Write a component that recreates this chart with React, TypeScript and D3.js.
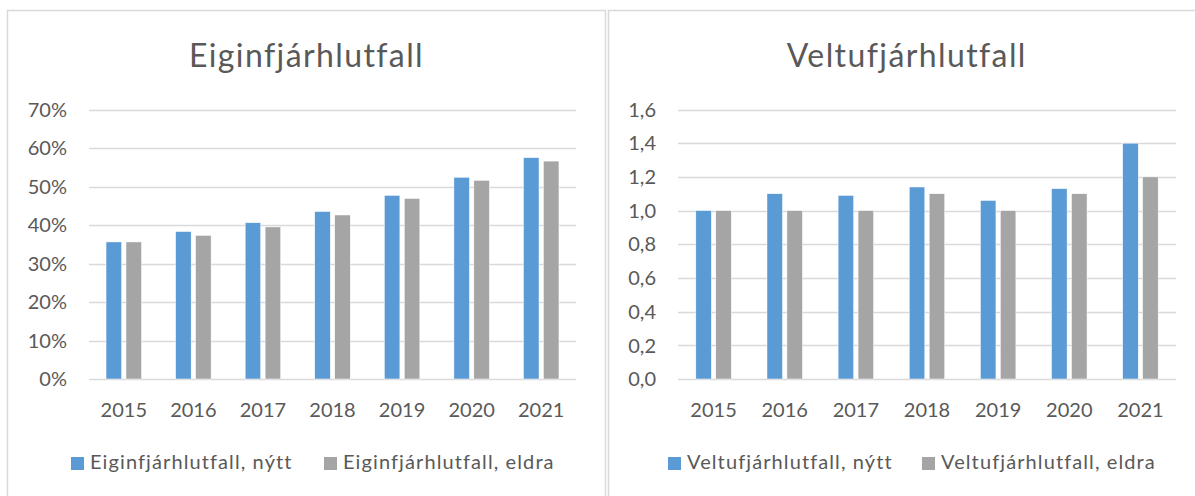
import React, { useEffect, useRef } from 'react';
import * as d3 from 'd3';

// Data
const years = ['2015', '2016', '2017', '2018', '2019', '2020', '2021'];

const eiginNytt = [35.6, 38.3, 40.6, 43.5, 47.7, 52.4, 57.5];
const eiginEldra = [35.6, 37.3, 39.5, 42.6, 46.9, 51.6, 56.6];
const eiginTicks = [0, 10, 20, 30, 40, 50, 60, 70];

const veltuNytt = [1.0, 1.1, 1.09, 1.14, 1.06, 1.13, 1.4];
const veltuEldra = [1.0, 1.0, 1.0, 1.1, 1.0, 1.1, 1.2];
const veltuTicks = [0, 0.2, 0.4, 0.6, 0.8, 1.0, 1.2, 1.4, 1.6];

const BLUE = '#5b9bd5';
const GRAY = '#a5a5a5';
const GRID = '#d9d9d9';
const TEXT = '#595959';
const FONT = 'Lato, "Open Sans", sans-serif';

interface ChartSpec {
  title: string;
  left: number; // panel left edge
  right: number; // panel right edge
  plotX: [number, number];
  yMax: number;
  ticks: number[];
  tickFormat: (v: number) => string;
  series: number[][];
  names: string[];
  legendX: [number, number];
}

const App: React.FC = () => {
  const svgRef = useRef<SVGSVGElement>(null);

  useEffect(() => {
    document.body.style.margin = '0';
    if (!svgRef.current) return;
    const svg = d3.select(svgRef.current);
    svg.selectAll('*').remove();

    const charts: ChartSpec[] = [
      {
        title: 'Eiginfjárhlutfall',
        left: 7.5,
        right: 605.5,
        plotX: [89, 576],
        yMax: 70,
        ticks: eiginTicks,
        tickFormat: v => `${v}%`,
        series: [eiginNytt, eiginEldra],
        names: ['Eiginfjárhlutfall, nýtt', 'Eiginfjárhlutfall, eldra'],
        legendX: [71, 324],
      },
      {
        title: 'Veltufjárhlutfall',
        left: 608.5,
        right: 1205,
        plotX: [678, 1176],
        yMax: 1.6,
        ticks: veltuTicks,
        tickFormat: v => d3.format('.1f')(v).replace('.', ','),
        series: [veltuNytt, veltuEldra],
        names: ['Veltufjárhlutfall, nýtt', 'Veltufjárhlutfall, eldra'],
        legendX: [668, 922],
      },
    ];

    const colors = [BLUE, GRAY];

    charts.forEach(c => {
      const g = svg.append('g');

      // panel frame (runs past the bottom of the picture)
      g.append('rect')
        .attr('x', c.left)
        .attr('y', 10.5)
        .attr('width', c.right - c.left)
        .attr('height', 520)
        .attr('fill', '#fff')
        .attr('stroke', GRID)
        .attr('stroke-width', 1.5);

      const x = d3.scaleBand<string>()
        .domain(years)
        .range(c.plotX)
        .paddingInner(0)
        .paddingOuter(0);

      const y = d3.scaleLinear()
        .domain([0, c.yMax])
        .range([379, 109.5]);

      const inner = d3.scaleBand<number>()
        .domain([0, 1])
        .range([0, 35.5])
        .paddingInner(0.22);

      // title, centred on the panel
      g.append('text')
        .attr('x', (c.left + c.right) / 2)
        .attr('y', 67)
        .attr('text-anchor', 'middle')
        .attr('fill', TEXT)
        .attr('font-family', FONT)
        .attr('font-weight', 400)
        .attr('font-size', 32)
        .attr('letter-spacing', 1.4)
        .text(c.title);

      // gridlines
      g.append('g')
        .selectAll('line')
        .data(c.ticks)
        .join('line')
        .attr('x1', c.plotX[0])
        .attr('x2', c.plotX[1])
        .attr('y1', d => Math.round(y(d)) + 0.5)
        .attr('y2', d => Math.round(y(d)) + 0.5)
        .attr('stroke', GRID)
        .attr('stroke-width', 1.5);

      // y tick labels
      g.append('g')
        .selectAll('text')
        .data(c.ticks)
        .join('text')
        .attr('x', c.plotX[0] - 22)
        .attr('y', d => y(d))
        .attr('dy', '0.36em')
        .attr('text-anchor', 'end')
        .attr('fill', TEXT)
        .attr('font-family', FONT)
        .attr('font-size', 20)
        .text(d => c.tickFormat(d));

      // bars
      c.series.forEach((vals, si) => {
        g.append('g')
          .selectAll('rect')
          .data(vals)
          .join('rect')
          .attr('x', (_, i) => (x(years[i]) as number) + x.bandwidth() / 2 - 17.75 + (inner(si) as number))
          .attr('y', d => y(d))
          .attr('width', inner.bandwidth())
          .attr('height', d => y(0) - y(d))
          .attr('fill', colors[si])
          .attr('stroke', '#fff')
          .attr('stroke-width', 0.5);
      });

      // x labels
      g.append('g')
        .selectAll('text')
        .data(years)
        .join('text')
        .attr('x', d => (x(d) as number) + x.bandwidth() / 2)
        .attr('y', 417)
        .attr('text-anchor', 'middle')
        .attr('fill', TEXT)
        .attr('font-family', FONT)
        .attr('font-size', 20)
        .text(d => d);

      // legend
      c.names.forEach((name, si) => {
        const lx = c.legendX[si];
        g.append('rect')
          .attr('x', lx)
          .attr('y', 457)
          .attr('width', 13)
          .attr('height', 13)
          .attr('fill', colors[si]);
        g.append('text')
          .attr('x', lx + 19)
          .attr('y', 469)
          .attr('fill', TEXT)
          .attr('font-family', FONT)
          .attr('font-size', 20)
          .attr('letter-spacing', 1.1)
          .text(name);
      });
    });
  }, []);

  return <svg ref={svgRef} width={1195} height={496} style={{ display: 'block', background: '#fff' }} />;
};

export default App;
